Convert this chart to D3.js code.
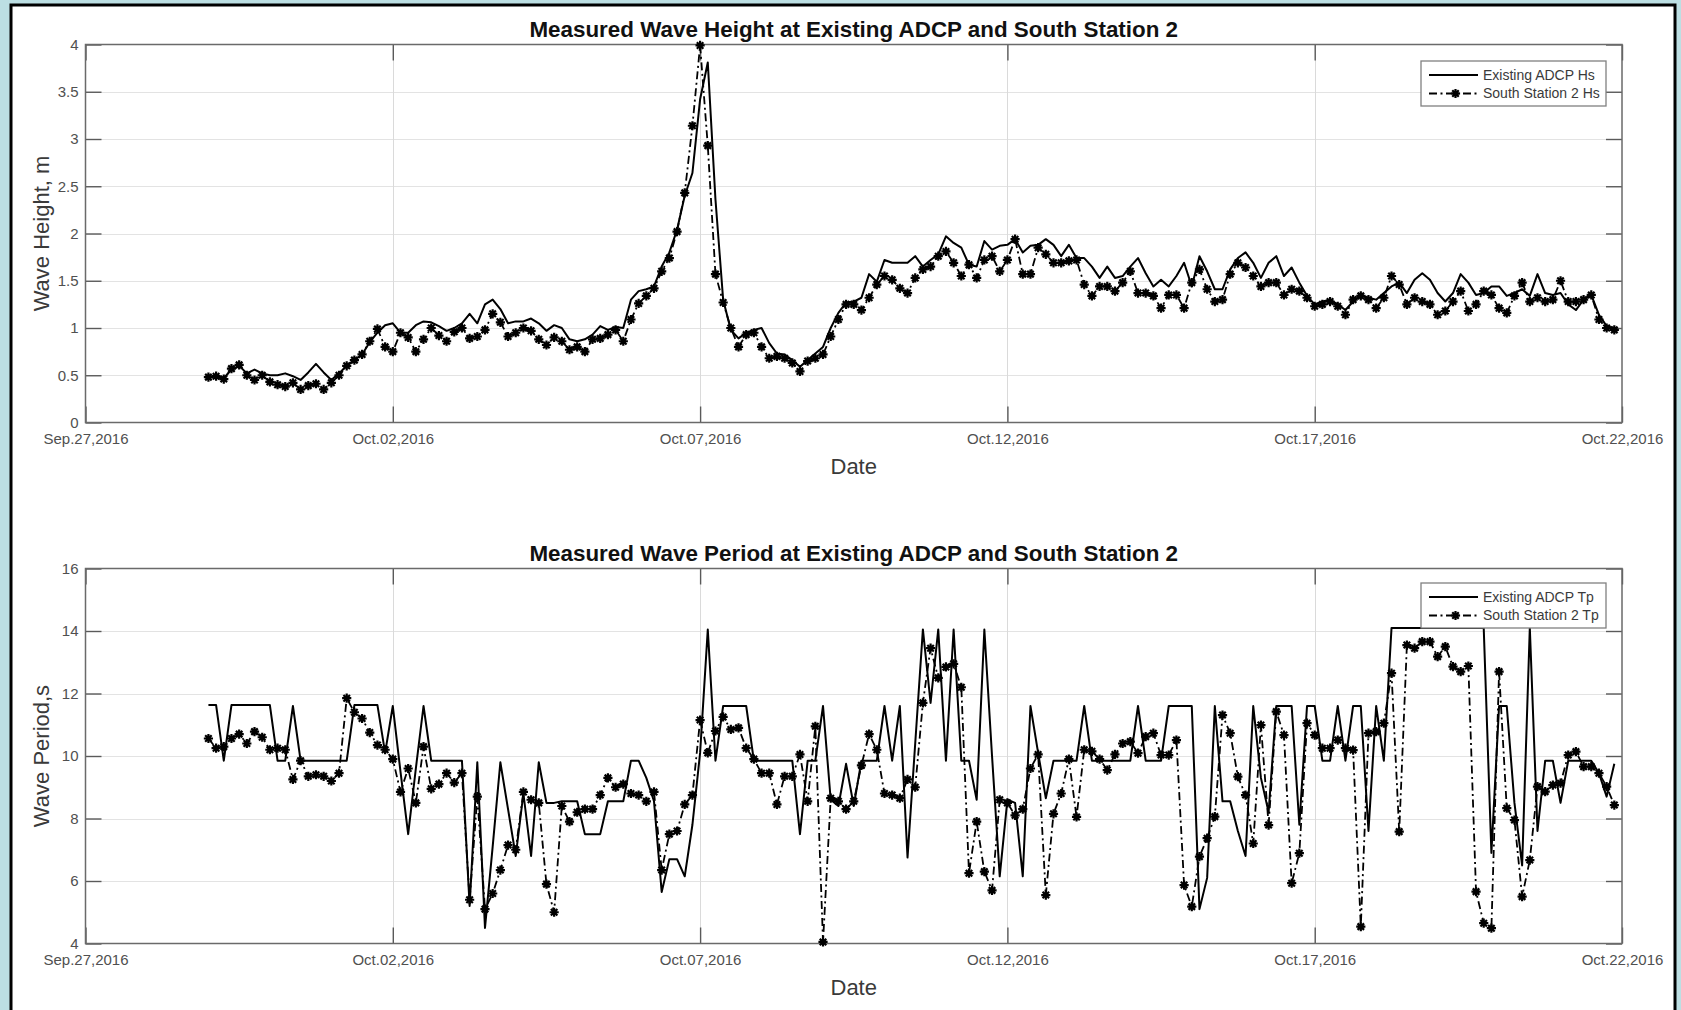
<!DOCTYPE html>
<html>
<head>
<meta charset="utf-8">
<script src="https://cdn.jsdelivr.net/npm/d3@7"></script>
<style>
  html, body { margin: 0; padding: 0; background: #bcdfe3; }
  svg { display: block; }
  text { font-family: "Liberation Sans", Arial, Helvetica, sans-serif; }
</style>
</head>
<body>
<svg id="chart" width="1681" height="1010"></svg>
<script>
// Records are 3-hourly, starting 2016-09-29 00:00 UTC
const seriesStart = "2016-09-29T00:00:00Z";
const stepHours = 3;

// Significant wave height (m)
const heightADCP = [
  0.48,0.49,0.47,0.56,0.60,0.52,0.56,0.52,0.50,0.50,0.52,0.49,0.45,0.53,0.62,0.53,0.45,0.52,0.60,0.66,0.72,0.85,0.95,
  1.03,1.05,0.95,0.95,1.03,1.07,1.06,1.02,0.97,1.00,1.05,1.15,1.05,1.25,1.30,1.20,1.05,1.07,1.07,1.10,1.05,0.97,1.03,
  1.00,0.88,0.86,0.88,0.93,1.02,0.98,1.01,1.00,1.30,1.39,1.41,1.44,1.65,1.80,2.04,2.40,2.64,3.42,3.81,2.36,1.30,0.98,
  0.89,0.95,0.98,1.00,0.84,0.73,0.72,0.66,0.59,0.66,0.73,0.80,1.00,1.16,1.27,1.28,1.32,1.57,1.49,1.72,1.69,1.69,1.69,
  1.76,1.65,1.72,1.78,1.97,1.90,1.85,1.67,1.65,1.92,1.83,1.87,1.88,1.94,1.80,1.87,1.88,1.94,1.88,1.76,1.88,1.74,1.74,
  1.65,1.53,1.65,1.53,
  1.55,1.65,1.74,1.58,1.44,1.51,1.44,1.55,1.69,1.44,1.76,1.60,1.41,1.41,1.62,1.74,1.80,1.69,1.53,1.69,1.76,1.55,1.64,
  1.48,1.34,1.25,1.28,1.30,1.25,1.19,1.28,1.35,1.32,1.30,1.37,1.44,1.48,1.37,1.51,1.58,1.51,1.37,1.28,1.37,1.57,1.48,
  1.35,1.37,1.44,1.44,1.34,1.37,1.41,1.34,1.57,1.37,1.35,1.37,1.25,1.19,1.30,1.35,1.14,1.02,1.00
];
const heightSouth2 = [
  0.48,0.49,0.46,0.57,0.61,0.50,0.45,0.50,0.43,0.40,0.38,0.42,0.35,0.39,0.41,0.35,0.42,0.50,0.60,0.66,0.72,0.86,0.99,
  0.80,0.75,0.95,0.90,0.75,0.88,1.00,0.92,0.86,0.96,1.00,0.89,0.91,0.98,1.15,1.06,0.91,0.95,1.00,0.97,0.88,0.82,0.90,
  0.86,0.77,0.80,0.75,0.88,0.89,0.93,0.98,0.86,1.09,1.26,1.34,1.42,1.60,1.74,2.02,2.43,3.14,3.99,2.93,1.57,1.27,1.00,
  0.80,0.93,0.95,0.80,0.68,0.70,0.68,0.63,0.54,0.65,0.68,0.72,0.91,1.09,1.25,1.25,1.19,1.32,1.46,1.55,1.51,1.42,1.37,
  1.53,1.62,1.65,1.76,1.81,1.69,1.55,1.67,1.53,1.72,1.76,1.60,1.72,1.94,1.57,1.57,1.85,1.78,1.69,1.69,1.71,1.72,1.46,
  1.34,1.44,1.44,1.39,
  1.48,1.60,1.37,1.37,1.34,1.21,1.35,1.35,1.21,1.48,1.62,1.41,1.28,1.30,1.57,1.69,1.64,1.55,1.44,1.48,1.48,1.35,1.41,
  1.39,1.32,1.23,1.25,1.28,1.23,1.14,1.30,1.34,1.30,1.21,1.32,1.55,1.46,1.25,1.32,1.28,1.25,1.14,1.18,1.28,1.39,1.18,
  1.25,1.39,1.35,1.21,1.16,1.34,1.48,1.28,1.32,1.28,1.30,1.50,1.28,1.28,1.30,1.35,1.09,1.00,0.98
];

// Peak wave period (s)
const periodADCP = [
  11.63,11.63,9.85,11.63,11.63,11.63,11.63,11.63,11.63,9.85,9.85,11.60,9.85,9.85,9.85,9.85,9.85,9.85,9.85,11.63,11.63,11.63,11.63,
  10.10,11.60,9.50,7.50,9.60,11.60,9.85,9.85,9.85,9.85,9.85,5.20,9.80,4.50,7.10,9.80,8.30,6.80,8.80,6.80,9.80,8.50,8.50,
  8.55,8.55,8.55,7.50,7.50,7.50,8.55,8.55,8.55,9.85,9.85,9.30,8.55,5.65,6.70,6.70,6.15,7.80,10.10,14.05,9.85,11.60,11.60,
  11.60,11.60,9.85,9.85,9.85,9.85,9.85,9.85,7.50,9.85,9.85,11.60,8.60,8.40,9.75,8.40,9.85,9.85,9.85,11.60,9.85,11.60,6.75,
  10.40,14.05,11.70,14.05,9.85,14.05,9.85,9.85,8.60,14.05,10.00,6.15,8.60,8.50,6.15,11.60,10.10,8.65,9.85,9.85,9.85,9.85,
  11.60,9.85,9.85,9.85,9.85,
  9.85,9.85,11.60,9.85,9.85,9.85,11.60,11.60,11.60,11.60,5.10,6.10,11.60,8.55,8.55,7.60,6.80,11.60,9.30,8.20,11.60,11.60,
  11.60,7.80,11.60,11.60,9.85,9.85,11.60,9.85,11.60,11.60,7.60,11.60,9.85,14.10,14.10,14.10,14.10,14.10,14.10,14.10,14.10,
  14.10,14.10,14.10,14.10,14.10,6.90,11.60,11.60,8.50,6.50,14.10,7.60,9.85,9.85,8.50,9.85,9.85,9.85,9.85,9.45,8.70,9.75
];
const periodSouth2 = [
  10.56,10.25,10.30,10.56,10.70,10.40,10.78,10.60,10.20,10.25,10.20,9.25,9.85,9.35,9.40,9.35,9.20,9.45,11.85,11.40,11.20,
  10.75,10.35,10.20,9.90,8.85,9.60,8.50,10.30,8.95,9.10,9.45,9.15,9.45,5.40,8.70,5.10,5.60,6.35,7.15,7.00,8.85,8.60,8.50,
  5.90,5.00,
  8.40,7.90,8.20,8.30,8.30,8.75,9.30,9.00,9.10,8.80,8.75,8.55,8.85,6.35,7.50,7.60,8.45,8.75,11.15,10.10,10.80,11.25,10.85,
  10.90,10.25,9.90,9.45,9.45,8.45,9.35,9.35,10.05,8.55,10.95,4.05,8.65,8.55,8.30,8.55,9.70,10.70,10.20,8.80,8.75,8.65,
  9.25,9.00,11.70,13.45,12.50,12.85,12.95,12.20,6.25,7.90,6.30,5.70,8.60,8.50,8.10,8.30,9.60,10.05,5.55,8.15,8.80,9.90,
  8.05,10.20,10.15,9.90,9.55,10.05,
  10.40,10.46,10.09,10.62,10.73,10.03,10.03,10.51,5.87,5.18,6.78,7.37,8.06,11.31,10.73,9.34,8.75,7.20,10.99,7.79,11.42,
  10.67,5.93,6.89,11.05,10.67,10.25,10.25,10.51,10.25,10.19,4.54,10.73,10.78,11.05,12.65,7.58,13.55,13.45,13.66,13.66,
  13.18,13.50,12.86,12.70,12.88,5.66,4.65,4.49,12.70,8.33,7.95,5.50,6.67,9.02,8.86,9.07,9.13,10.03,10.14,9.66,9.66,9.45,
  9.02,8.43
];

// Axis ticks
const dateTicks = ["2016-09-27","2016-10-02","2016-10-07","2016-10-12","2016-10-17","2016-10-22"];
const heightTicks = [0, 0.5, 1, 1.5, 2, 2.5, 3, 3.5, 4];
const periodTicks = [4, 6, 8, 10, 12, 14, 16];

const startMs = Date.parse(seriesStart);
const stepMs = stepHours * 3600 * 1000;
const toRecords = vals => vals.map((v, i) => ({ t: new Date(startMs + i * stepMs), v }));

const svg = d3.select("#chart");

// Figure frame
svg.append("rect")
  .attr("x", 11).attr("y", 5).attr("width", 1664).attr("height", 1030)
  .attr("fill", "#ffffff").attr("stroke", "#000").attr("stroke-width", 3);

const left = 85.5, right = 1622;
const tickDates = dateTicks.map(s => new Date(s + "T00:00:00Z"));
const x = d3.scaleUtc()
  .domain([tickDates[0], tickDates[tickDates.length - 1]])
  .range([left, right]);
const fmtDate = d3.utcFormat("%b.%d,%Y");

// eight-armed asterisk marker
const asteriskPath = r => {
  const a = r * 0.7071;
  return `M${-r},0L${r},0M0,${-r}L0,${r}M${-a},${-a}L${a},${a}M${-a},${a}L${a},${-a}`;
};
const markerR = 4.6;
const dashDot = "8,3.5,2,3.5";

function drawPanel(cfg) {
  const { top, bottom, yDomain, yTicks, title, yLabel, legendY, names, lineVals, markVals } = cfg;
  const y = d3.scaleLinear().domain(yDomain).range([bottom, top]);
  const g = svg.append("g");

  // grid
  g.append("g").selectAll("line").data(yTicks.slice(1, -1)).join("line")
    .attr("x1", left).attr("x2", right)
    .attr("y1", d => Math.round(y(d)) + 0.5).attr("y2", d => Math.round(y(d)) + 0.5)
    .attr("stroke", "#e3e3e3").attr("stroke-width", 1.2);
  g.append("g").selectAll("line").data(tickDates.slice(1, -1)).join("line")
    .attr("x1", d => Math.round(x(d)) + 0.5).attr("x2", d => Math.round(x(d)) + 0.5)
    .attr("y1", top).attr("y2", bottom)
    .attr("stroke", "#dadada").attr("stroke-width", 1);

  // axes with inward ticks
  const axisStyle = sel => {
    sel.select(".domain").remove();
    sel.selectAll(".tick line").attr("stroke", "#5a5a5a").attr("stroke-width", 1.4);
    sel.selectAll(".tick text").attr("fill", "#505050").style("font-size", "15px");
  };
  g.append("g").attr("transform", `translate(0,${bottom})`)
    .call(d3.axisBottom(x).tickValues(tickDates).tickFormat(fmtDate)
      .tickSizeInner(-16).tickSizeOuter(0).tickPadding(11))
    .call(axisStyle);
  g.append("g").attr("transform", `translate(0,${top})`)
    .call(d3.axisTop(x).tickValues(tickDates).tickFormat("")
      .tickSizeInner(-16).tickSizeOuter(0))
    .call(axisStyle);
  g.append("g").attr("transform", `translate(${left},0)`)
    .call(d3.axisLeft(y).tickValues(yTicks).tickFormat(d3.format("~g"))
      .tickSizeInner(-16).tickSizeOuter(0).tickPadding(7))
    .call(axisStyle);
  g.append("g").attr("transform", `translate(${right},0)`)
    .call(d3.axisRight(y).tickValues(yTicks).tickFormat("")
      .tickSizeInner(-16).tickSizeOuter(0))
    .call(axisStyle);

  // axes box
  g.append("rect")
    .attr("x", left).attr("y", top).attr("width", right - left).attr("height", bottom - top)
    .attr("fill", "none").attr("stroke", "#6a6a6a").attr("stroke-width", 1.5);

  // series
  const line = d3.line().x(d => x(d.t)).y(d => y(d.v));
  const solid = toRecords(lineVals);
  const marked = toRecords(markVals);
  g.append("path").datum(solid).attr("d", line)
    .attr("fill", "none").attr("stroke", "#000").attr("stroke-width", 2)
    .attr("stroke-linejoin", "round");
  g.append("path").datum(marked).attr("d", line)
    .attr("fill", "none").attr("stroke", "#000").attr("stroke-width", 1.8)
    .attr("stroke-dasharray", dashDot);
  g.append("g").selectAll("path").data(marked).join("path")
    .attr("transform", d => `translate(${x(d.t)},${y(d.v)})`)
    .attr("d", asteriskPath(markerR))
    .attr("fill", "none").attr("stroke", "#000").attr("stroke-width", 2.2);

  // title and labels
  g.append("text").attr("x", (left + right) / 2).attr("y", top - 8)
    .attr("text-anchor", "middle").attr("fill", "#111")
    .style("font-size", "22.4px").style("font-weight", "bold").text(title);
  g.append("text").attr("x", (left + right) / 2).attr("y", bottom + 51.5)
    .attr("text-anchor", "middle").attr("fill", "#3a3a3a")
    .style("font-size", "22px").text("Date");
  g.append("text")
    .attr("transform", `translate(49,${(top + bottom) / 2}) rotate(-90)`)
    .attr("text-anchor", "middle").attr("fill", "#3a3a3a")
    .style("font-size", "22px").text(yLabel);

  // legend
  const lx = 1421, lw = 185, lh = 45;
  const lg = g.append("g").attr("transform", `translate(${lx},${legendY})`);
  lg.append("rect").attr("width", lw).attr("height", lh)
    .attr("fill", "#fff").attr("stroke", "#808080").attr("stroke-width", 1.3);
  const rows = [14, 32.5];
  lg.append("line").attr("x1", 8).attr("x2", 57).attr("y1", rows[0]).attr("y2", rows[0])
    .attr("stroke", "#000").attr("stroke-width", 2);
  lg.append("line").attr("x1", 8).attr("x2", 57).attr("y1", rows[1]).attr("y2", rows[1])
    .attr("stroke", "#000").attr("stroke-width", 1.8).attr("stroke-dasharray", dashDot);
  lg.append("path").attr("transform", `translate(34.5,${rows[1]})`).attr("d", asteriskPath(markerR))
    .attr("fill", "none").attr("stroke", "#000").attr("stroke-width", 2.2);
  lg.selectAll("text.lbl").data(names).join("text").attr("class", "lbl")
    .attr("x", 62).attr("y", (d, i) => rows[i]).attr("dy", "0.35em")
    .attr("fill", "#3a3a3a").style("font-size", "14px").text(d => d);
}

drawPanel({
  top: 44.5, bottom: 422.5, yDomain: [0, 4], yTicks: heightTicks,
  title: "Measured Wave Height at Existing ADCP and South Station 2",
  yLabel: "Wave Height, m", legendY: 61,
  names: ["Existing ADCP Hs", "South Station 2 Hs"],
  lineVals: heightADCP, markVals: heightSouth2
});
drawPanel({
  top: 568.5, bottom: 943.5, yDomain: [4, 16], yTicks: periodTicks,
  title: "Measured Wave Period at Existing ADCP and South Station 2",
  yLabel: "Wave Period,s", legendY: 583,
  names: ["Existing ADCP Tp", "South Station 2 Tp"],
  lineVals: periodADCP, markVals: periodSouth2
});
</script>
</body>
</html>
